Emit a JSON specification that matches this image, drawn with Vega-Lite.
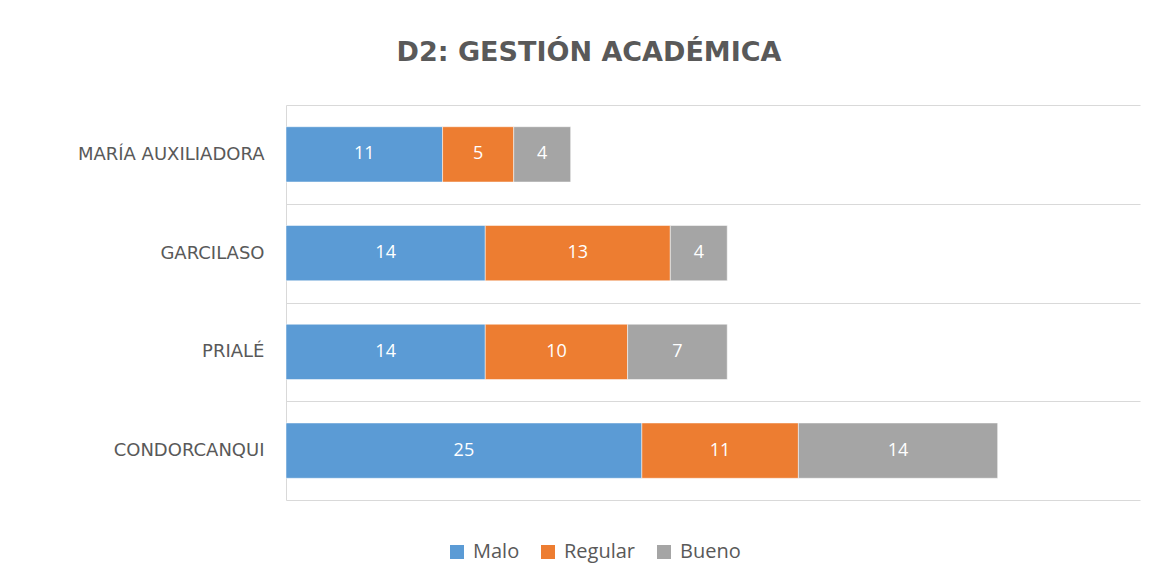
{
  "$schema": "https://vega.github.io/schema/vega-lite/v6.json",
  "width": 854,
  "height": 395,
  "autosize": {"type": "none"},
  "padding": {"left": 286, "top": 105, "right": 16, "bottom": 84},
  "background": "white",
  "config": {
    "view": {"stroke": null},
    "font": "Open Sans"
  },
  "title": {
    "text": "D2: GESTIÓN ACADÉMICA",
    "anchor": "middle",
    "frame": "group",
    "dx": -124,
    "offset": 29,
    "fontSize": 27,
    "fontWeight": "bold",
    "color": "#595959",
    "font": "DejaVu Sans"
  },
  "data": {
    "values": [
      {"escuela": "MARÍA AUXILIADORA", "nivel": "Malo", "ord": 1, "valor": 11},
      {"escuela": "MARÍA AUXILIADORA", "nivel": "Regular", "ord": 2, "valor": 5},
      {"escuela": "MARÍA AUXILIADORA", "nivel": "Bueno", "ord": 3, "valor": 4},
      {"escuela": "GARCILASO", "nivel": "Malo", "ord": 1, "valor": 14},
      {"escuela": "GARCILASO", "nivel": "Regular", "ord": 2, "valor": 13},
      {"escuela": "GARCILASO", "nivel": "Bueno", "ord": 3, "valor": 4},
      {"escuela": "PRIALÉ", "nivel": "Malo", "ord": 1, "valor": 14},
      {"escuela": "PRIALÉ", "nivel": "Regular", "ord": 2, "valor": 10},
      {"escuela": "PRIALÉ", "nivel": "Bueno", "ord": 3, "valor": 7},
      {"escuela": "CONDORCANQUI", "nivel": "Malo", "ord": 1, "valor": 25},
      {"escuela": "CONDORCANQUI", "nivel": "Regular", "ord": 2, "valor": 11},
      {"escuela": "CONDORCANQUI", "nivel": "Bueno", "ord": 3, "valor": 14}
    ]
  },
  "transform": [
    {"stack": "valor", "groupby": ["escuela"], "sort": [{"field": "ord", "order": "ascending"}], "as": ["x0", "x1"]},
    {"calculate": "(datum.x0 + datum.x1) / 2", "as": "xm"}
  ],
  "encoding": {
    "y": {
      "field": "escuela",
      "type": "nominal",
      "sort": ["MARÍA AUXILIADORA", "GARCILASO", "PRIALÉ", "CONDORCANQUI"],
      "scale": {"paddingInner": 0, "paddingOuter": 0},
      "axis": {
        "title": null,
        "ticks": false,
        "tickBand": "extent",
        "grid": true,
        "gridColor": "#d9d9d9",
        "gridWidth": 1,
        "domainColor": "#d9d9d9",
        "labelPadding": 22,
        "labelFontSize": 18,
        "labelLimit": 270,
        "labelColor": "#595959",
        "labelFont": "DejaVu Sans"
      }
    }
  },
  "layer": [
    {
      "mark": {"type": "bar", "stroke": "white", "strokeWidth": 0.5, "height": {"band": 0.56}},
      "encoding": {
        "x": {"field": "x0", "type": "quantitative", "scale": {"domain": [0, 60], "nice": false}, "axis": null},
        "x2": {"field": "x1"},
        "color": {
          "field": "nivel",
          "type": "nominal",
          "scale": {"domain": ["Malo", "Regular", "Bueno"], "range": ["#5B9BD5", "#ED7D31", "#A5A5A5"]},
          "legend": {
            "title": null,
            "orient": "none",
            "direction": "horizontal",
            "legendX": 161,
            "legendY": 437,
            "symbolType": "square",
            "symbolSize": 196,
            "symbolStrokeWidth": 0,
            "labelFontSize": 20,
            "labelColor": "#595959",
            "labelFont": "Open Sans",
            "columnPadding": 18,
            "labelOffset": 6
          }
        }
      }
    },
    {
      "mark": {"type": "text", "color": "white", "fontSize": 18, "font": "Open Sans"},
      "encoding": {
        "x": {"field": "xm", "type": "quantitative"},
        "text": {"field": "valor", "type": "quantitative"}
      }
    }
  ]
}
